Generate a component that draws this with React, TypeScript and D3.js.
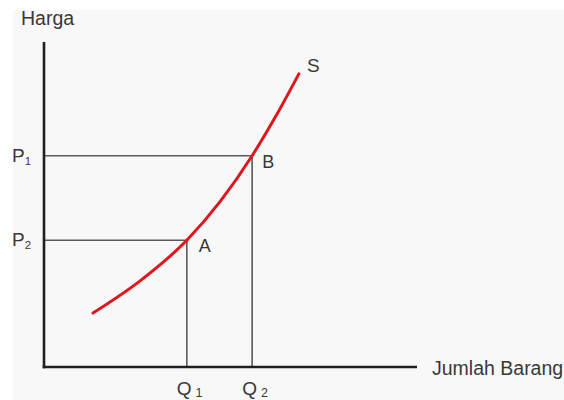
import React from "react";
import * as d3 from "d3";

// Supply curve S (quantity, price)
const supplyQ = [1.32, 2.59, 3.85, 4.74, 5.61, 6.25, 6.87];
const supplyP = [1.66, 2.65, 3.9, 5.08, 6.5, 7.72, 9.02];

// Marked points on the curve
const pointNames = ["A", "B"];
const pointQ = [3.85, 5.61];
const pointP = [3.9, 6.5];
const priceLabels = ["2", "1"]; // P subscripts for A, B
const qtyLabels = ["1", "2"]; // Q subscripts for A, B

const W = 564;
const H = 400;
const FONT = "'Liberation Sans', Arial, sans-serif";
const TEXT = "#383838";

export default function App() {
  const x = d3.scaleLinear().domain([0, 10]).range([44, 415]);
  const y = d3.scaleLinear().domain([0, 10]).range([367, 42]);

  const curve = d3
    .line<number>()
    .x((_, i) => x(supplyQ[i]))
    .y((_, i) => y(supplyP[i]))
    .curve(d3.curveMonotoneX);

  const last = supplyQ.length - 1;

  return (
    <svg
      width={W}
      height={H}
      style={{ position: "absolute", left: 0, top: 0, display: "block" }}
      fontFamily={FONT}
    >
      <rect x={0} y={0} width={W} height={H} fill="#ffffff" />
      <rect x={13} y={10} width={W - 13} height={H - 10} fill="#f8f8f8" />

      {/* guide lines to the axes */}
      {pointNames.map((n, i) => (
        <g key={n} stroke="#5a5a5a" strokeWidth={1.6} fill="none">
          <line x1={x(0)} x2={x(pointQ[i])} y1={y(pointP[i])} y2={y(pointP[i])} />
          <line x1={x(pointQ[i])} x2={x(pointQ[i])} y1={y(pointP[i])} y2={y(0)} />
        </g>
      ))}

      {/* supply curve */}
      <path
        d={curve(supplyQ) ?? ""}
        fill="none"
        stroke="#e2141e"
        strokeWidth={3}
        strokeLinecap="round"
      />

      {/* axes */}
      <g stroke="#231f20" strokeWidth={2.6} fill="none">
        <line x1={x(0)} x2={x(0)} y1={y(10)} y2={y(0) + 1.3} />
        <line x1={x(0) - 1.3} x2={x(10) + 2} y1={y(0)} y2={y(0)} />
      </g>

      {/* axis titles */}
      <text x={21} y={25} fontSize={19.5} fill={TEXT}>
        Harga
      </text>
      <text x={432} y={375} fontSize={19.5} fill={TEXT}>
        Jumlah Barang
      </text>

      {/* curve name */}
      <text x={x(supplyQ[last]) + 8} y={y(supplyP[last]) - 2} fontSize={19} fill={TEXT}>
        S
      </text>

      {/* point labels */}
      {pointNames.map((n, i) => (
        <text
          key={n}
          x={x(pointQ[i]) + (n === "A" ? 12 : 10)}
          y={y(pointP[i]) + (n === "A" ? 12 : 12)}
          fontSize={18}
          fill={TEXT}
        >
          {n}
        </text>
      ))}

      {/* price labels */}
      {pointNames.map((n, i) => (
        <text key={"p" + n} x={12} y={y(pointP[i]) + 6} fontSize={19} fill={TEXT}>
          P
          <tspan fontSize={11.5} dy={3}>
            {priceLabels[i]}
          </tspan>
        </text>
      ))}

      {/* quantity labels */}
      {pointNames.map((n, i) => (
        <text key={"q" + n} x={x(pointQ[i]) - 10} y={395} fontSize={19} fill={TEXT}>
          Q
          <tspan fontSize={12.5} dx={4} dy={2}>
            {qtyLabels[i]}
          </tspan>
        </text>
      ))}
    </svg>
  );
}
